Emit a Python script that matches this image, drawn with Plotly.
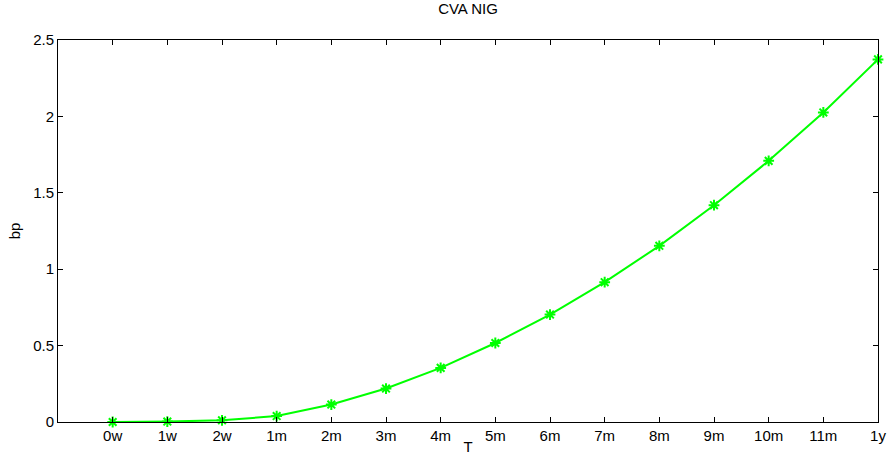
import plotly.graph_objects as go

# Maturity buckets and CVA (in basis points) under the NIG model
tenors = ["0w", "1w", "2w", "1m", "2m", "3m", "4m", "5m", "6m",
          "7m", "8m", "9m", "10m", "11m", "1y"]
cva_bp = [0.0, 0.003, 0.011, 0.039, 0.114, 0.219, 0.354, 0.517, 0.703,
          0.915, 1.153, 1.419, 1.709, 2.026, 2.373]
y_ticks = [0, 0.5, 1, 1.5, 2, 2.5]
y_tick_text = ["0", "0.5", "1", "1.5", "2", "2.5"]

x_idx = list(range(len(tenors)))
green = "#00ff00"
font = "Liberation Sans, Arial, Helvetica, sans-serif"

fig = go.Figure()
fig.add_trace(go.Scatter(
    x=x_idx, y=cva_bp, mode="lines+markers",
    line=dict(color=green, width=2),
    marker=dict(symbol="asterisk-open", size=9,
                line=dict(color=green, width=2), color=green),
    showlegend=False, cliponaxis=False,
))

fig.update_layout(
    width=889, height=455,
    margin=dict(l=58, r=11, t=40, b=33, autoexpand=False),
    paper_bgcolor="white", plot_bgcolor="white",
    font=dict(family=font, size=15, color="black"),
    title=dict(text="CVA NIG", x=0.5, xref="paper", xanchor="center",
               y=1, yref="container", yanchor="top", pad=dict(t=3),
               font=dict(size=15, color="black")),
)
fig.update_xaxes(
    range=[-1, 14], tickmode="array", tickvals=x_idx, ticktext=tenors,
    ticks="inside", ticklen=5, tickcolor="black", tickwidth=1,
    showline=True, linecolor="black", linewidth=1, mirror="ticks",
    showgrid=False, zeroline=False, automargin=False,
    title=dict(text="T", standoff=0, font=dict(size=15)),
    tickfont=dict(size=15),
)
fig.update_yaxes(
    range=[0, 2.5], tickmode="array", tickvals=y_ticks, ticktext=y_tick_text,
    ticks="inside", ticklen=5, tickcolor="black", tickwidth=1,
    showline=True, linecolor="black", linewidth=1, mirror="ticks",
    showgrid=False, zeroline=False, automargin=False,
    title=dict(text="bp", standoff=8, font=dict(size=15)),
    tickfont=dict(size=15),
)

fig.write_html("out.html")
